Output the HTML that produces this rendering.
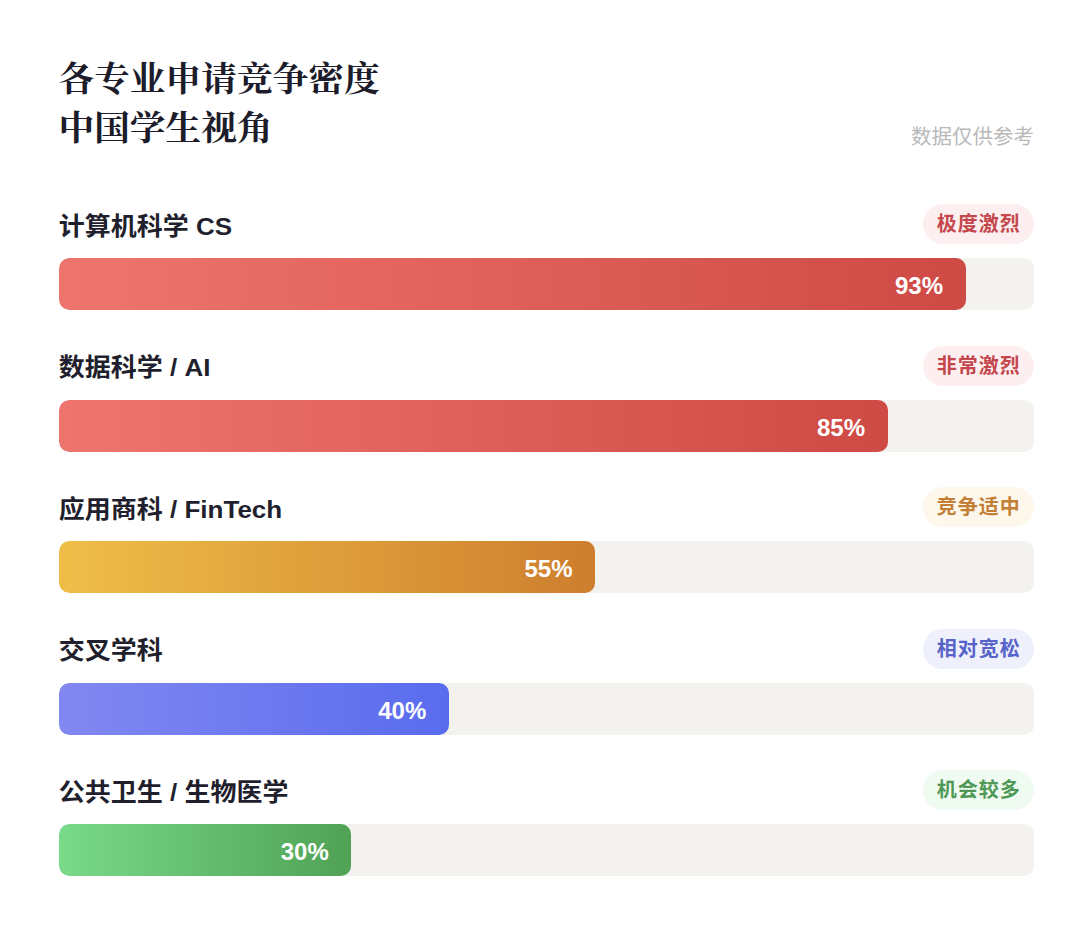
<!DOCTYPE html>
<html lang="zh-CN">
<head>
<meta charset="utf-8">
<title>各专业申请竞争密度</title>
<style>
  html, body { margin: 0; padding: 0; }
  body {
    width: 1080px; height: 929px; overflow: hidden; position: relative;
    background: #ffffff;
    font-family: "Liberation Sans", "Noto Sans CJK SC", sans-serif;
  }
  .title {
    position: absolute; left: 58.5px; top: 56px;
    font-family: "Liberation Serif", "Noto Serif CJK SC", serif;
    font-weight: 700; font-size: 35.7px; line-height: 51.3px; color: #1c1c2a;
    transform: scaleY(0.955); transform-origin: 0 0;
    margin: 0;
  }
  .note {
    position: absolute; right: 46px; top: 122px;
    font-size: 20.5px; line-height: 30px; color: #b9b9b9;
  }
  .row { position: absolute; left: 58.8px; width: 975px; height: 106px; }
  .head { position: absolute; left: 0; right: 0; top: 0; height: 40px; }
  .label {
    position: absolute; left: 0; top: 1.5px; line-height: 40px;
    font-size: 26px; font-weight: 700; color: #1f1f2d;
    transform: scaleY(0.95); transform-origin: 0 50%;
  }
  .badge {
    position: absolute; right: 0; top: 0; height: 40px; line-height: 40px;
    padding: 0 13px 0 14px; border-radius: 20px;
    font-size: 20px; font-weight: 700; letter-spacing: 1px;
  }
  .track {
    position: absolute; left: 0; top: 54px; width: 975px; height: 52px;
    border-radius: 10px; background: #f3f2ef; overflow: hidden;
  }
  .fill {
    position: absolute; left: 0; top: 0; bottom: 0; border-radius: 10px;
  }
  .pct {
    position: absolute; right: 22.5px; top: 2px; line-height: 52px;
    font-size: 24px; font-weight: 700; color: #ffffff;
  }
  .r1 .fill, .r2 .fill { background: linear-gradient(90deg, #ee756e, #ce4a44); }
  .r1 .badge, .r2 .badge { background: #fdeff0; color: #c4474d; }
  .r3 .fill { background: linear-gradient(90deg, #efbe48, #ce7e2e); }
  .r3 .badge { background: #fdf7ec; color: #c47f36; }
  .r4 .fill { background: linear-gradient(90deg, #8288f1, #596cee); }
  .r4 .badge { background: #eef0fc; color: #5663c8; }
  .r5 .fill { background: linear-gradient(90deg, #79da89, #50a255); }
  .r5 .badge { background: #effaf1; color: #4e9856; }
</style>
</head>
<body>
  <h1 class="title">各专业申请竞争密度<br>中国学生视角</h1>
  <div class="note">数据仅供参考</div>

  <div class="row r1" style="top:204px">
    <div class="head"><span class="label">计算机科学 CS</span><span class="badge">极度激烈</span></div>
    <div class="track"><div class="fill" style="width:93%"><span class="pct">93%</span></div></div>
  </div>
  <div class="row r2" style="top:345.5px">
    <div class="head"><span class="label">数据科学 / AI</span><span class="badge">非常激烈</span></div>
    <div class="track"><div class="fill" style="width:85%"><span class="pct">85%</span></div></div>
  </div>
  <div class="row r3" style="top:487px">
    <div class="head"><span class="label">应用商科 / FinTech</span><span class="badge">竞争适中</span></div>
    <div class="track"><div class="fill" style="width:55%"><span class="pct">55%</span></div></div>
  </div>
  <div class="row r4" style="top:628.5px">
    <div class="head"><span class="label">交叉学科</span><span class="badge">相对宽松</span></div>
    <div class="track"><div class="fill" style="width:40%"><span class="pct">40%</span></div></div>
  </div>
  <div class="row r5" style="top:770px">
    <div class="head"><span class="label">公共卫生 / 生物医学</span><span class="badge">机会较多</span></div>
    <div class="track"><div class="fill" style="width:30%"><span class="pct">30%</span></div></div>
  </div>
</body>
</html>
